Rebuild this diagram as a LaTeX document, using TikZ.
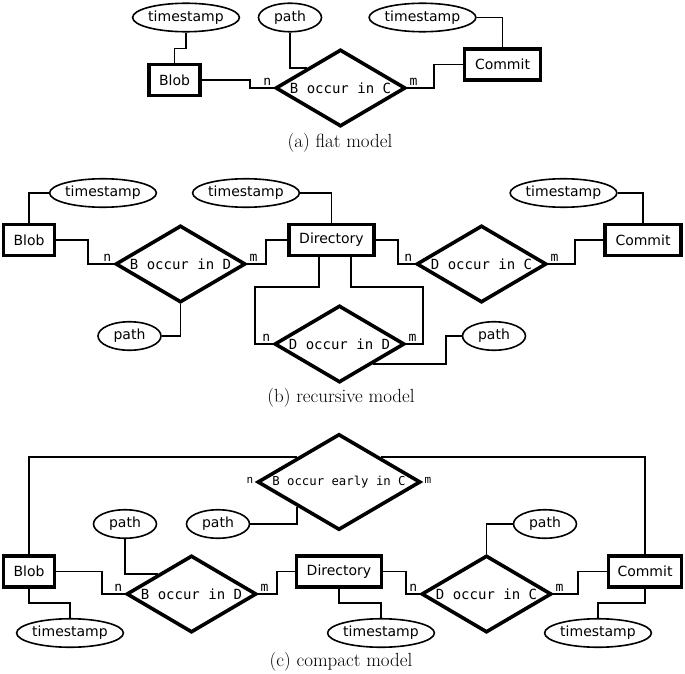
\documentclass[tikz,border=0pt]{standalone}
\usepackage{fontspec}
\newfontfamily\ersans{DejaVu Sans}
\newfontfamily\ermono{DejaVu Sans Mono}
\usetikzlibrary{shapes.geometric,positioning}

\begin{document}
\begin{tikzpicture}[x=1pt,y=-1pt,line width=1.8pt,
    entity/.style={draw,rectangle,line width=3.6pt,minimum height=31pt,inner sep=0pt,font=\ersans\fontsize{14}{16}\selectfont},
    relation/.style={draw,diamond,aspect=1.7,line width=3.6pt,minimum width=130pt,minimum height=77pt,inner sep=0pt,font=\ermono\fontsize{14}{16}\selectfont},
    attr/.style={draw,ellipse,line width=1.6pt,minimum height=28.5pt,inner sep=0pt,font=\ersans\fontsize{14}{16}\selectfont},
    stamp/.style={attr,minimum width=106pt},
    pathattr/.style={attr,minimum width=63pt},
    card/.style={inner sep=1.5pt,font=\ermono\fontsize{13}{15}\selectfont},
    smallcard/.style={inner sep=1.5pt,font=\ermono\fontsize{11}{13}\selectfont},
    caption/.style={font=\fontsize{19}{22}\selectfont}]

            \useasboundingbox (0,0) rectangle (685,674);

            % (a) flat model
            \node[stamp] (tsa) at (186,17.5) {timestamp};
            \node[pathattr] (patha) at (290,17.5) {path};
            \node[stamp] (tsa2) at (422.5,17.5) {timestamp};
            \node[entity,minimum width=51pt] (bloba) at (174.5,80) {Blob};
            \node[relation] (bca) at (340.5,88) {B occur in C};
            \node[entity,minimum width=76pt] (commita) at (502.5,64.5) {Commit};
            \node[card,anchor=south east] (bcan) at (bca.west) {n};
            \node[card,anchor=south west] (bcam) at (bca.east) {m};
            \node[caption] (capa) at (340,143) {(a) flat model};

            \draw (tsa.south) -- ++(0,16) -| (bloba.north);
            \draw (bloba.east) -- ++(48,0) |- (bca.west);
            \draw (patha.south) |- (bca.north west);
            \draw (bca.east) -- ++(27,0) |- (commita.west);
            \draw (tsa2.east) -| (commita.north);

            % (b) recursive model
            \node[stamp] (tsb) at (103,193) {timestamp};
            \node[stamp] (tsb2) at (246,193) {timestamp};
            \node[stamp] (tsb3) at (563.5,193) {timestamp};
            \node[entity,minimum width=51pt] (blobb) at (29,240) {Blob};
            \node[entity,minimum width=85pt] (dirb) at (331.5,240) {Directory};
            \node[entity,minimum width=76pt] (commitb) at (643,240) {Commit};
            \node[relation] (bdb) at (180.5,264) {B occur in D};
            \node[relation] (dcb) at (481.5,264) {D occur in C};
            \node[relation] (ddb) at (339.5,344) {D occur in D};
            \node[pathattr] (pathb) at (129.5,336) {path};
            \node[pathattr] (pathb2) at (494,336) {path};
            \node[card,anchor=south east] (bdbn) at (bdb.west) {n};
            \node[card,anchor=south west] (bdbm) at (bdb.east) {m};
            \node[card,anchor=south east] (dcbn) at (dcb.west) {n};
            \node[card,anchor=south west] (dcbm) at (dcb.east) {m};
            \node[card,anchor=south east] (ddbn) at (ddb.west) {n};
            \node[card,anchor=south west] (ddbm) at (ddb.east) {m};
            \node[caption] (capb) at (341,398) {(b) recursive model};

            \draw (tsb.west) -| (blobb.north);
            \draw (blobb.east) -- ++(32,0) |- (bdb.west);
            \draw (pathb.east) -| (bdb.south);
            \draw (bdb.east) -- ++(19,0) |- (dirb.west);
            \draw (tsb2.east) -| (dirb.north);
            \draw (dirb.east) -- ++(22,0) |- (dcb.west);
            \draw (dcb.east) -- ++(27,0) |- (commitb.west);
            \draw (tsb3.east) -| (commitb.north);
            \draw ([xshift=-12.5pt]dirb.south) -- ++(0,30) -- ++(-64,0) |- (ddb.west);
            \draw ([xshift=19.5pt]dirb.south) -- ++(0,30) -- ++(72,0) |- (ddb.east);
            \draw (ddb.south east) -- ++(73,0) |- (pathb2.west);

            % (c) compact model
            \node[relation,minimum width=163pt,minimum height=96pt,font=\ermono\fontsize{12.3}{14}\selectfont] (bec) at (339,482) {B occur early in C};
            \node[pathattr] (pathc) at (125,524) {path};
            \node[pathattr] (pathc2) at (218,524) {path};
            \node[pathattr] (pathc3) at (545,524) {path};
            \node[entity,minimum width=51pt] (blobc) at (29,571.5) {Blob};
            \node[entity,minimum width=85pt] (dirc) at (339,571.5) {Directory};
            \node[entity,minimum width=73pt] (commitc) at (645,571.5) {Commit};
            \node[relation] (bdc) at (191.5,594) {B occur in D};
            \node[relation] (dcc) at (486.5,594) {D occur in C};
            \node[stamp] (tsc) at (70,633) {timestamp};
            \node[stamp] (tsc2) at (381,633) {timestamp};
            \node[stamp] (tsc3) at (598,633) {timestamp};
            \node[smallcard,anchor=south east] (becn) at ([yshift=-4pt]bec.west) {n};
            \node[smallcard,anchor=south west] (becm) at ([yshift=-4pt]bec.east) {m};
            \node[card,anchor=south east] (bdcn) at (bdc.west) {n};
            \node[card,anchor=south west] (bdcm) at (bdc.east) {m};
            \node[card,anchor=south east] (dccn) at (dcc.west) {n};
            \node[card,anchor=south west] (dccm) at (dcc.east) {m};
            \node[caption] (capc) at (341,662) {(c) compact model};

            \draw (blobc.north) |- (bec.north west);
            \draw (bec.north east) -| (commitc.north);
            \draw (pathc2.east) -| (bec.south west);
            \draw (pathc.south) |- (bdc.north west);
            \draw (blobc.east) -- ++(46,0) |- (bdc.west);
            \draw (blobc.south) -- ++(0,14) -| (tsc.north);
            \draw (bdc.east) -- ++(19,0) |- (dirc.west);
            \draw (dirc.south) -- ++(0,14) -| (tsc2.north);
            \draw (dirc.east) -- ++(23,0) |- (dcc.west);
            \draw (dcc.north) |- (pathc3.west);
            \draw (dcc.east) -- ++(25,0) |- (commitc.west);
            \draw (commitc.south) -- ++(0,14) -| (tsc3.north);

        \end{tikzpicture}
\end{document}
